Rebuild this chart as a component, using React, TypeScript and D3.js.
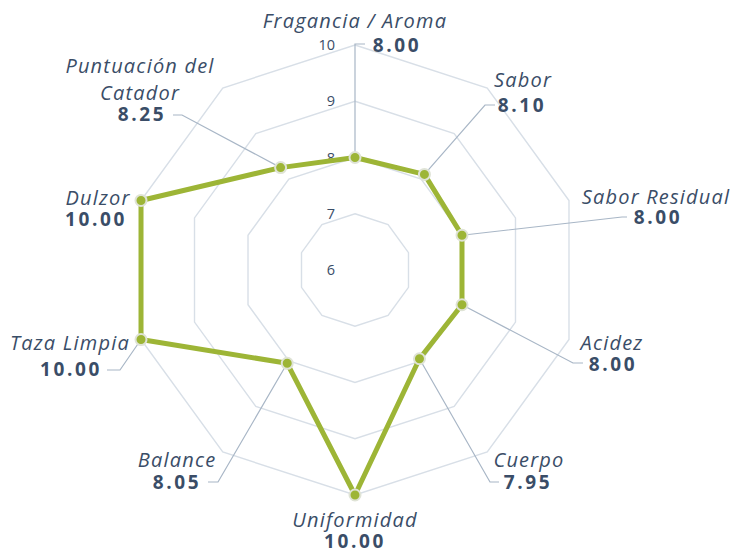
import React from "react";
import * as d3 from "d3";

const categories = [
  "Fragancia / Aroma",
  "Sabor",
  "Sabor Residual",
  "Acidez",
  "Cuerpo",
  "Uniformidad",
  "Balance",
  "Taza Limpia",
  "Dulzor",
  "Puntuación del Catador",
];
const scores = [8.0, 8.1, 8.0, 8.0, 7.95, 10.0, 8.05, 10.0, 10.0, 8.25];
const tickValues = [6, 7, 8, 9, 10];
const ringValues = [7, 8, 9, 10];

// label layout (offsets from chart centre): name lines, name pos, value pos, leader elbow/end
type Lay = { lines: string[]; n: [number, number]; v: [number, number]; e?: [number, number]; t?: [number, number] };
const layout: Lay[] = [
  { lines: ["Fragancia / Aroma"], n: [0, -242], v: [42, -218], e: [0, -226], t: [10, -226] },
  { lines: ["Sabor"], n: [168, -183], v: [167, -158], e: [130, -165], t: [140, -165] },
  { lines: ["Sabor Residual"], n: [301, -66], v: [303, -46], e: [267, -53], t: [272, -53] },
  { lines: ["Acidez"], n: [257, 80], v: [258, 101], e: [218, 93], t: [228, 93] },
  { lines: ["Cuerpo"], n: [174, 197], v: [173, 219], e: [135, 212], t: [144, 212] },
  { lines: ["Uniformidad"], n: [0, 257], v: [0, 278] },
  { lines: ["Balance"], n: [-178, 197], v: [-178, 219], e: [-137, 212], t: [-147, 212] },
  { lines: ["Taza Limpia"], n: [-285, 80], v: [-284, 106], e: [-235, 100], t: [-248, 100] },
  { lines: ["Dulzor"], n: [-257, -65], v: [-259, -44] },
  { lines: ["Puntuación del", "Catador"], n: [-215, -197], v: [-213, -149], e: [-173, -155], t: [-182, -155] },
];

const W = 734;
const H = 554;
const cx = 355;
const cy = 270;
const R = 225;
const textColor = "#3a4d67";
const ringColor = "#d8dfe7";
const leaderColor = "#a8b6c6";
const green = "#9db536";

export default function App() {
  const n = categories.length;
  const angle = d3
    .scaleLinear()
    .domain([0, n])
    .range([0, 2 * Math.PI]);
  const r = d3.scaleLinear().domain([6, 10]).range([0, R]);

  const ringLine = d3
    .lineRadial<number>()
    .angle((_, i) => angle(i))
    .radius((d) => r(d))
    .curve(d3.curveLinearClosed);

  const dataLine = d3
    .lineRadial<number>()
    .angle((_, i) => angle(i))
    .radius((d) => r(d))
    .curve(d3.curveLinearClosed);

  const pt = (v: number, i: number): [number, number] => {
    const a = angle(i);
    return [r(v) * Math.sin(a), -r(v) * Math.cos(a)];
  };

  const font = "'Open Sans', 'DejaVu Sans', sans-serif";

  return (
    <svg
      width={W}
      height={H}
      style={{ position: "absolute", left: 0, top: 0, display: "block", background: "#fff" }}
    >
      <g transform={`translate(${cx},${cy})`}>
        {ringValues.map((v) => (
          <path
            key={v}
            d={ringLine(new Array(n).fill(v)) || ""}
            fill="none"
            stroke={ringColor}
            strokeWidth={1.4}
          />
        ))}
        {tickValues.map((v) => (
          <text
            key={v}
            x={-20}
            y={-r(v)}
            dy="0.35em"
            textAnchor="end"
            fontFamily={font}
            fontSize={14.5}
            fill={textColor}
          >
            {v}
          </text>
        ))}
        {scores.map((v, i) => {
          const L = layout[i];
          if (!L.e || !L.t) return null;
          const [px, py] = pt(v, i);
          return (
            <polyline
              key={"l" + i}
              points={`${px},${py} ${L.e[0]},${L.e[1]} ${L.t[0]},${L.t[1]}`}
              fill="none"
              stroke={leaderColor}
              strokeWidth={1.2}
            />
          );
        })}
        <path
          d={dataLine(scores) || ""}
          fill="none"
          stroke={green}
          strokeWidth={5}
          strokeLinejoin="round"
        />
        {scores.map((v, i) => {
          const [px, py] = pt(v, i);
          return (
            <circle
              key={"c" + i}
              cx={px}
              cy={py}
              r={5.5}
              fill={green}
              stroke="#dfe3d6"
              strokeWidth={2}
            />
          );
        })}
        {scores.map((v, i) => {
          const L = layout[i];
          return (
            <g key={"t" + i} fill={textColor} fontFamily={font}>
              {L.lines.map((ln, j) => (
                <text
                  key={j}
                  x={L.n[0]}
                  y={L.n[1] + j * 27}
                  textAnchor="middle"
                  fontSize={20}
                  fontStyle="italic"
                  fontWeight={500}
                  letterSpacing={1.2}
                >
                  {ln}
                </text>
              ))}
              <text
                x={L.v[0]}
                y={L.v[1]}
                textAnchor="middle"
                fontSize={19}
                fontWeight={700}
                letterSpacing={2.6}
              >
                {v.toFixed(2)}
              </text>
            </g>
          );
        })}
      </g>
    </svg>
  );
}
